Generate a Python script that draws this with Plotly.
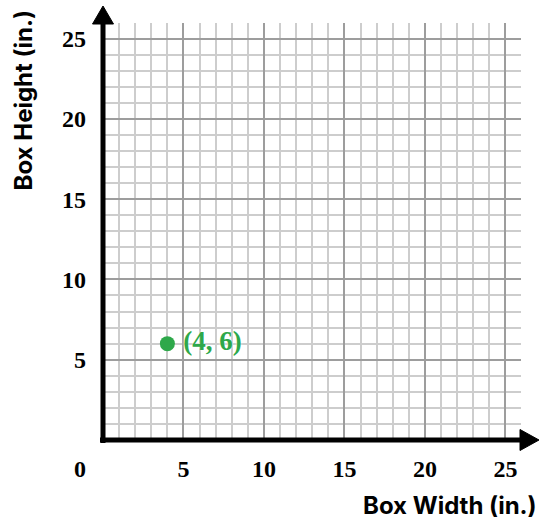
import plotly.graph_objects as go

# Data
point_x = [4]
point_y = [6]
point_labels = ["(4, 6)"]
tick_values = [5, 10, 15, 20, 25]
tick_labels = ["5", "10", "15", "20", "25"]
x_title = "Box Width (in.)"
y_title = "Box Height (in.)"

GREEN = "#2ea84a"
TICK_FONT = dict(family="Liberation Serif", size=24, color="black")
TITLE_FONT = dict(family="Inter", size=24, color="black")

def bold(s):
    return f"<b>{s}</b>"

fig = go.Figure()

fig.add_trace(go.Scatter(
    x=point_x, y=point_y, mode="markers+text",
    text=["\u2009" + bold(t) for t in point_labels], textposition="middle right",
    marker=dict(color=GREEN, size=15),
    textfont=dict(family="Liberation Serif", size=27, color=GREEN,
                  shadow="0px 0px 3px white"),
    cliponaxis=False, hoverinfo="skip", showlegend=False,
))

axis_common = dict(
    range=[0, 25.97],
    showline=False, zeroline=False,
    showgrid=True, gridcolor="#9d9d9d", gridwidth=2,
    tickmode="array", tickvals=tick_values, ticktext=[bold(t) for t in tick_labels],
    ticks="", tickfont=TICK_FONT,
    minor=dict(dtick=1, tick0=0, showgrid=True, gridcolor="#cdcdcd", gridwidth=2),
    fixedrange=True,
)
fig.update_xaxes(**axis_common, ticklabelstandoff=12)
fig.update_yaxes(**axis_common, ticklabelstandoff=16)

# Axis lines with arrowheads (paper coordinates so they may leave the grid area)
W, H = 418.0, 417.0
def px(dx):
    return dx / W
def py(dy):
    return dy / H

shapes = [
    # y axis line
    dict(type="line", xref="paper", yref="paper", x0=0, x1=0,
         y0=-py(3), y1=1 + py(4), line=dict(color="black", width=5)),
    # x axis line
    dict(type="line", xref="paper", yref="paper", x0=-px(3), x1=1 + px(4),
         y0=0, y1=0, line=dict(color="black", width=5)),
    # y arrowhead
    dict(type="path", xref="paper", yref="paper",
         path=f"M {-px(10.5)} {1 - py(1)} L {px(10.5)} {1 - py(1)} L 0 {1 + py(17)} Z",
         fillcolor="black", line=dict(color="black", width=1)),
    # x arrowhead
    dict(type="path", xref="paper", yref="paper",
         path=f"M {1 - px(1)} {py(10.5)} L {1 - px(1)} {-py(10.5)} L {1 + px(18)} 0 Z",
         fillcolor="black", line=dict(color="black", width=1)),
]

annotations = [
    dict(text=bold("0"), xref="paper", yref="paper", x=-px(23), y=-py(29),
         xanchor="center", yanchor="middle", showarrow=False, font=TICK_FONT),
    dict(text=bold(x_title), xref="paper", yref="paper", x=1 + px(18), y=-py(66),
         xanchor="right", yanchor="middle", showarrow=False, font=TITLE_FONT),
    dict(text=bold(y_title), xref="paper", yref="paper", x=-px(80), y=1 + py(15),
         xanchor="center", yanchor="top", textangle=-90, showarrow=False,
         font=TITLE_FONT),
]

fig.update_layout(
    width=542, height=521,
    margin=dict(l=103, r=21, t=23, b=81),
    paper_bgcolor="white", plot_bgcolor="white",
    shapes=shapes, annotations=annotations,
    showlegend=False,
)

fig.write_html("out.html")
